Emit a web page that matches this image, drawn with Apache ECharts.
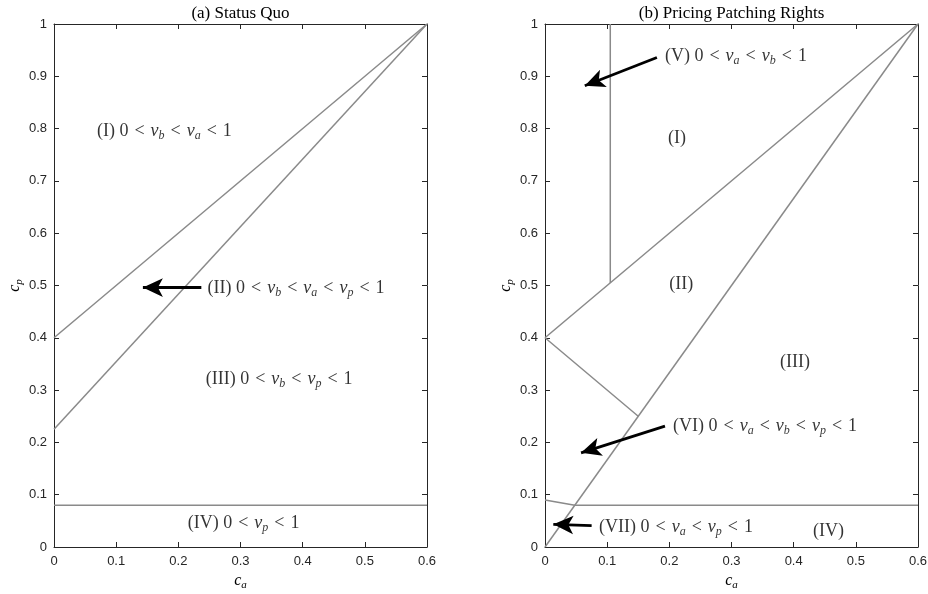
<!DOCTYPE html>
<html><head><meta charset="utf-8">
<script src="https://cdn.jsdelivr.net/npm/echarts@6/dist/echarts.min.js"></script>
<style>html,body{margin:0;padding:0;background:#fff}#c{width:928px;height:594px}</style>
</head><body><div id="c"></div>
<script>
// ---- data ----
const xTicks = [0, 0.1, 0.2, 0.3, 0.4, 0.5, 0.6];
const yTicks = [0, 0.1, 0.2, 0.3, 0.4, 0.5, 0.6, 0.7, 0.8, 0.9, 1];
const panelTitles = ['(a) Status Quo', '(b) Pricing Patching Rights'];

// panel (a) boundaries
const aUpper = [[0, 0.4], [0.6, 1]];
const aLower = [[0, 0.225], [0.6, 1]];
const aFloor = [[0, 0.08], [0.6, 0.08]];
// panel (b) boundaries
const bUpper = [[0, 0.4], [0.6, 1]];
const bDiag = [[0, 0], [0.6, 1]];
const bVertical = [[0.105, 0.505], [0.105, 1]];
const bMid = [[0, 0.4], [0.15, 0.25]];
const bLow = [[0, 0.09], [0.048, 0.08]];
const bFloor = [[0.048, 0.08], [0.6, 0.08]];

// arrows [tail, tip]
const aArrows = [[[0.237, 0.496], [0.143, 0.496]]];
const bArrows = [
  [[0.180, 0.936], [0.064, 0.882]],
  [[0.193, 0.231], [0.058, 0.180]],
  [[0.075, 0.041], [0.0134, 0.0434]]
];

// region labels [x, y, text]
const aLabels = [
  [0.069, 0.795, '(I) 0 < v_b < v_a < 1'],
  [0.247, 0.495, '(II) 0 < v_b < v_a < v_p < 1'],
  [0.244, 0.321, '(III) 0 < v_b < v_p < 1'],
  [0.215, 0.046, '(IV) 0 < v_p < 1']
];
const bLabels = [
  [0.193, 0.939, '(V) 0 < v_a < v_b < 1'],
  [0.198, 0.782, '(I)'],
  [0.200, 0.503, '(II)'],
  [0.378, 0.354, '(III)'],
  [0.206, 0.231, '(VI) 0 < v_a < v_b < v_p < 1'],
  [0.087, 0.038, '(VII) 0 < v_a < v_p < 1'],
  [0.431, 0.0305, '(IV)']
];

// ---- styling ----
const SERIF = '"Liberation Serif", "DejaVu Serif", serif';
const SANS = '"Liberation Sans", Arial, sans-serif';
const AX = '#262626';
const GRAY = '#8a8a8a';
const rich = {
  n: {fontFamily: SERIF, fontSize: 18, color: '#000', lineHeight: 22},
  o: {fontFamily: SERIF, fontSize: 18, color: '#000', lineHeight: 22, padding: [0, 1.5, 0, 1.5]},
  i: {fontFamily: SERIF, fontSize: 18, fontStyle: 'italic', color: '#000', lineHeight: 22},
  s: {fontFamily: SERIF, fontSize: 12, fontStyle: 'italic', color: '#000', lineHeight: 12, verticalAlign: 'bottom'}
};
const nameRich = {
  i: {fontFamily: SERIF, fontSize: 16, fontStyle: 'italic', color: '#000', lineHeight: 20},
  s: {fontFamily: SERIF, fontSize: 11, fontStyle: 'italic', color: '#000', lineHeight: 11, verticalAlign: 'bottom'}
};
function toRich(s) {
  return s.split(/(v_[abp]|<)/).filter(Boolean).map(t =>
    t.startsWith('v_') ? '{i|v}{s|' + t[2] + '}' :
    t === '<' ? '{o|<}' : '{n|' + t + '}').join('');
}

const grids = [
  {left: 54, top: 24, width: 373, height: 523, outerBoundsMode: 'none', containLabel: false},
  {left: 545, top: 24, width: 373, height: 523, outerBoundsMode: 'none', containLabel: false}
];
const xMin = xTicks[0], xMax = xTicks[xTicks.length - 1], xInt = xTicks[1] - xTicks[0];
const yMin = yTicks[0], yMax = yTicks[yTicks.length - 1], yInt = yTicks[1] - yTicks[0];

const axisCommon = {
  type: 'value',
  axisLine: {show: true, onZero: false, lineStyle: {color: AX, width: 1}},
  axisTick: {show: true, inside: true, length: 5, lineStyle: {color: AX}},
  splitLine: {show: false}
};
const xAxes = [], yAxes = [];
[0, 1].forEach(g => {
  xAxes.push(Object.assign({}, axisCommon, {
    gridIndex: g, position: 'bottom', min: xMin, max: xMax, interval: xInt,
    axisLabel: {color: AX, fontFamily: SANS, fontSize: 13, margin: 8},
    name: '{i|c}{s|a}', nameLocation: 'middle', nameGap: 24,
    nameTextStyle: {rich: nameRich}
  }));
  yAxes.push(Object.assign({}, axisCommon, {
    gridIndex: g, position: 'left', min: yMin, max: yMax, interval: yInt,
    axisLabel: {color: AX, fontFamily: SANS, fontSize: 13, margin: 7},
    name: '{i|c}{s|p}', nameLocation: 'middle', nameGap: 29, nameRotate: 90,
    nameTextStyle: {rich: nameRich}
  }));
});
[0, 1].forEach(g => {
  xAxes.push(Object.assign({}, axisCommon, {
    gridIndex: g, position: 'top', min: xMin, max: xMax, interval: xInt,
    axisLabel: {show: false},
    name: panelTitles[g], nameLocation: 'middle', nameGap: 2,
    nameTextStyle: {fontFamily: SERIF, fontSize: 17, color: '#000'}
  }));
  yAxes.push(Object.assign({}, axisCommon, {
    gridIndex: g, position: 'right', min: yMin, max: yMax, interval: yInt,
    axisLabel: {show: false}
  }));
});

function seg(data, g) {
  return {type: 'line', xAxisIndex: g, yAxisIndex: g, data: data, symbol: 'none',
    silent: true, lineStyle: {color: GRAY, width: 1.5}, z: 2};
}
function arrows(list, g) {
  return {type: 'lines', coordinateSystem: 'cartesian2d', xAxisIndex: g, yAxisIndex: g,
    silent: true, symbol: ['none', 'arrow'], symbolSize: [[0, 0], [14, 20]],
    lineStyle: {color: '#000', width: 2.8, opacity: 1}, z: 4,
    data: list.map(c => ({coords: c}))};
}
function labels(list, g) {
  return {type: 'scatter', xAxisIndex: g, yAxisIndex: g, symbolSize: 0, silent: true, z: 5,
    data: list,
    label: {show: true, position: 'right', distance: 0,
      formatter: p => toRich(p.data[2]), rich: rich}};
}

const option = {
  animation: false,
  grid: grids,
  xAxis: xAxes,
  yAxis: yAxes,
  series: [
    seg(aUpper, 0), seg(aLower, 0), seg(aFloor, 0),
    seg(bUpper, 1), seg(bDiag, 1), seg(bVertical, 1), seg(bMid, 1), seg(bLow, 1), seg(bFloor, 1),
    arrows(aArrows, 0), arrows(bArrows, 1),
    labels(aLabels, 0), labels(bLabels, 1)
  ]
};
const chart = echarts.init(document.getElementById('c'), null, {renderer: 'canvas'});
chart.setOption(option);
</script>
</body></html>
